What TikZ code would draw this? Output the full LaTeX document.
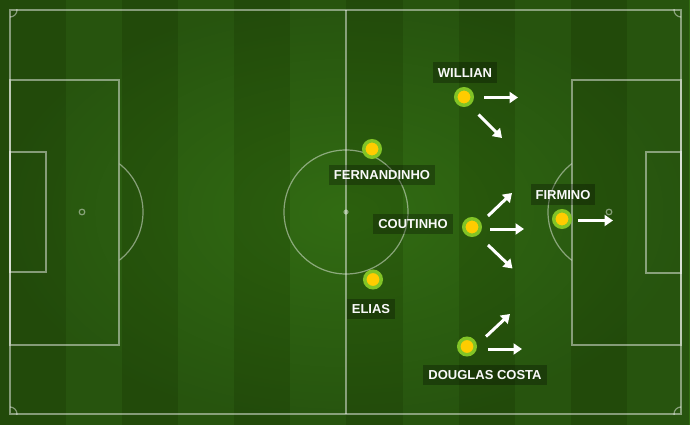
\documentclass[tikz,border=0pt]{standalone}
\usepackage{fontspec}
\setmainfont{Liberation Sans}
\usetikzlibrary{arrows.meta,fadings}
\definecolor{stripeA}{HTML}{2C600E}
\definecolor{stripeB}{HTML}{326C13}
\definecolor{ringc}{HTML}{82C426}
\definecolor{ballc}{HTML}{FFCC00}
\tikzfading[name=vign, inner color=transparent!100, outer color=transparent!78]
\begin{document}
\begin{tikzpicture}[x=1pt,y=-1pt,
  fieldline/.style={draw=white, draw opacity=0.45, line width=1.2pt},
  player/.style={circle, draw=ringc, line width=3.5pt, fill=ballc, minimum size=16.5pt, inner sep=0pt},
  lbl/.style={fill=black, fill opacity=0.28, text opacity=1, text=white!95!gray,
    font=\fontsize{13}{15}\selectfont\bfseries, inner xsep=5pt, inner ysep=5.5pt,
    text height=9.5pt, text depth=0pt},
  arr/.style={draw=white, line width=3pt, -{Triangle[length=8.5pt,width=11pt]}}]
\useasboundingbox (0,0) rectangle (690,425);
% stripes
\fill[stripeA] (0,0) rectangle (690,425);
\foreach \i in {0,...,11}{
  \pgfmathsetmacro{\xa}{10+56.08*\i}
  \pgfmathsetmacro{\xb}{10+56.08*(\i+1)}
  \ifodd\i
    \fill[stripeB] (\xa,0) rectangle (\xb,425);
  \fi
}
\fill[stripeB] (683,0) rectangle (690,425);
\fill[black, path fading=vign] (0,0) rectangle (690,425);
% field lines
\draw[fieldline] (10,10) rectangle (681,414);
\draw[fieldline] (346,10) -- (346,414);
\draw[fieldline] (346,212) circle[radius=62];
\fill[white, opacity=0.45] (346,212) circle[radius=2.6];
\draw[fieldline] (10,80) rectangle (119,345);
\draw[fieldline] (10,152) rectangle (46,272);
\draw[fieldline] (82,212) circle[radius=2.8];
\draw[fieldline] (572,80) rectangle (681,345);
\draw[fieldline] (646,152) rectangle (681,273);
\draw[fieldline] (609,212) circle[radius=2.8];
\begin{scope}
  \clip (119.5,0) rectangle (300,425);
  \draw[fieldline] (82,212) circle[radius=61];
\end{scope}
\begin{scope}
  \clip (400,0) rectangle (571.5,425);
  \draw[fieldline] (609,212) circle[radius=61];
\end{scope}
\begin{scope}
  \clip (10,10) rectangle (681,414);
  \draw[fieldline] (10,10) circle[radius=7];
  \draw[fieldline] (681,10) circle[radius=7];
  \draw[fieldline] (10,414) circle[radius=7];
  \draw[fieldline] (681,414) circle[radius=7];
\end{scope}
% labels
\node[lbl] (willianL) at (465,72.5) {WILLIAN};
\node[lbl] (fernL) at (382,175) {FERNANDINHO};
\node[lbl] (coutL) at (413,224) {COUTINHO};
\node[lbl] (firmL) at (563,194.5) {FIRMINO};
\node[lbl] (eliasL) at (371,309) {ELIAS};
\node[lbl] (dougL) at (485,375) {DOUGLAS COSTA};
% players
\node[player] (willian) at (464,97) {};
\node[player] (fern) at (372,149) {};
\node[player] (cout) at (472,227) {};
\node[player] (firm) at (562,219) {};
\node[player] (elias) at (373,279.5) {};
\node[player] (doug) at (467,346.5) {};
% arrow coordinates
\coordinate (w1s) at (484,97.5);  \coordinate (w1e) at (518,97.5);
\coordinate (w2s) at (478.5,114.5); \coordinate (w2e) at (502,138);
\coordinate (c1s) at (488,216);   \coordinate (c1e) at (512,193);
\coordinate (c2s) at (490,229);   \coordinate (c2e) at (524,229);
\coordinate (c3s) at (488,245);   \coordinate (c3e) at (512.5,268.5);
\coordinate (f1s) at (578,220.5); \coordinate (f1e) at (613,220.5);
\coordinate (d1s) at (486,336.5); \coordinate (d1e) at (510,314);
\coordinate (d2s) at (488,349);   \coordinate (d2e) at (522,349);
\draw[arr] (w1s) -- (w1e);
\draw[arr] (w2s) -- (w2e);
\draw[arr] (c1s) -- (c1e);
\draw[arr] (c2s) -- (c2e);
\draw[arr] (c3s) -- (c3e);
\draw[arr] (f1s) -- (f1e);
\draw[arr] (d1s) -- (d1e);
\draw[arr] (d2s) -- (d2e);
\end{tikzpicture}
\end{document}
